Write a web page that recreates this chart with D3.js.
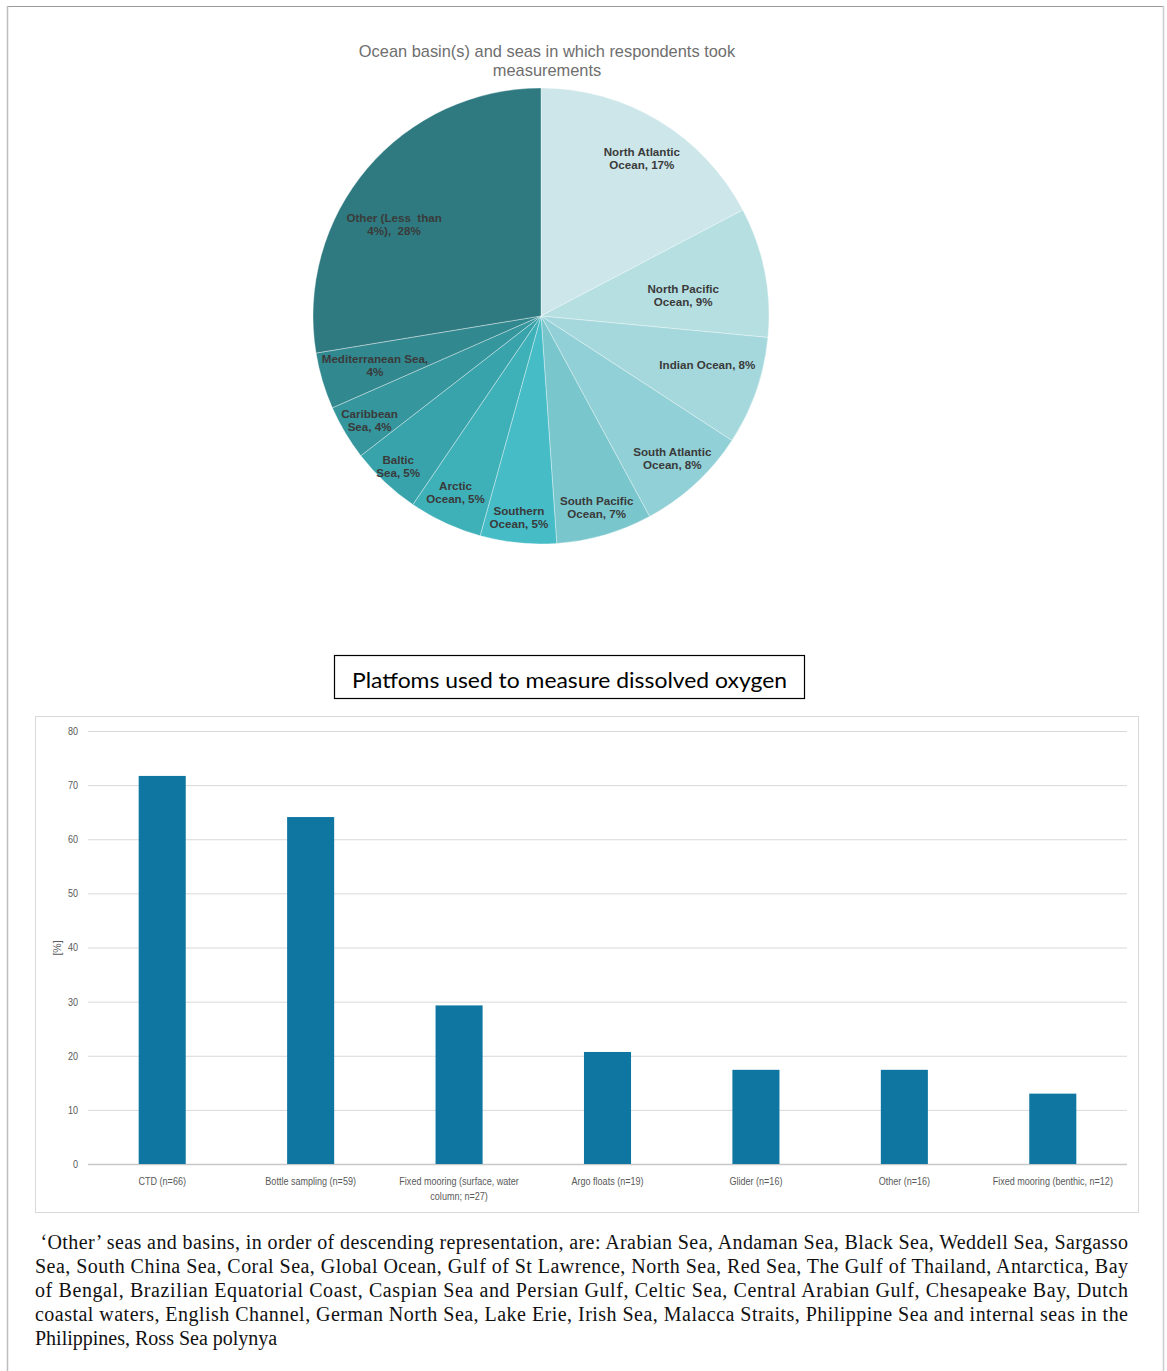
<!DOCTYPE html>
<html>
<head>
<meta charset="utf-8">
<script src="https://cdn.jsdelivr.net/npm/d3@7"></script>
<style>
  html, body { margin: 0; padding: 0; background: #fff; }
  svg { display: block; }
</style>
</head>
<body>
<svg id="chart" width="1167" height="1371"></svg>
<script>
// ---------- Pie data ----------
const pieTitleLines = ["Ocean basin(s) and seas in which respondents took", "measurements"];
const pieCategories = [
  ["North Atlantic", "Ocean, 17%"],
  ["North Pacific", "Ocean, 9%"],
  ["Indian Ocean, 8%"],
  ["South Atlantic", "Ocean, 8%"],
  ["South Pacific", "Ocean, 7%"],
  ["Southern", "Ocean, 5%"],
  ["Arctic", "Ocean, 5%"],
  ["Baltic", "Sea, 5%"],
  ["Caribbean", "Sea, 4%"],
  ["Mediterranean Sea,", "4%"],
  ["Other (Less  than", "4%),  28%"]
];
const pieValues = [17.3, 9.2, 7.7, 7.9, 6.8, 5.4, 5.2, 5.0, 3.9, 4.0, 27.6];
const pieColors = ["#cde6ea", "#b6dfe2", "#a5d8dc", "#91d0d6", "#79c6cd", "#45bcc6",
                   "#3eb0b8", "#39a3ab", "#35969d", "#31888f", "#2e7a80"];

// ---------- Bar data ----------
const barTitle = "Platfoms used to measure dissolved oxygen";
const barCategories = [
  ["CTD (n=66)"],
  ["Bottle sampling (n=59)"],
  ["Fixed mooring (surface, water", "column; n=27)"],
  ["Argo floats (n=19)"],
  ["Glider (n=16)"],
  ["Other (n=16)"],
  ["Fixed mooring (benthic, n=12)"]
];
const barValues = [71.7, 64.1, 29.3, 20.7, 17.4, 17.4, 13.0];
const yTicks = [0, 10, 20, 30, 40, 50, 60, 70, 80];
const yLabel = "[%]";

// ---------- Caption ----------
const captionLines = [
  "\u00A0\u2018Other\u2019 seas and basins, in order of descending representation, are: Arabian Sea, Andaman Sea, Black Sea, Weddell Sea, Sargasso",
  "Sea, South China Sea, Coral Sea, Global Ocean, Gulf of St Lawrence, North Sea, Red Sea, The Gulf of Thailand, Antarctica, Bay",
  "of Bengal, Brazilian Equatorial Coast, Caspian Sea and Persian Gulf, Celtic Sea, Central Arabian Gulf, Chesapeake Bay, Dutch",
  "coastal waters, English Channel, German North Sea, Lake Erie, Irish Sea, Malacca Straits, Philippine Sea and internal seas in the",
  "Philippines, Ross Sea polynya"
];

const svg = d3.select("#chart");

// Page frame
svg.append("line").attr("x1", 7).attr("x2", 1164).attr("y1", 6.5).attr("y2", 6.5).attr("stroke", "#9a9a9a").attr("stroke-width", 1);
svg.append("line").attr("x1", 7.5).attr("x2", 7.5).attr("y1", 6).attr("y2", 1371).attr("stroke", "#bdbdbd").attr("stroke-width", 1.5);
svg.append("line").attr("x1", 1163.5).attr("x2", 1163.5).attr("y1", 6).attr("y2", 1371).attr("stroke", "#cccccc").attr("stroke-width", 1.5);

// ---------- Pie ----------
const cx = 541, cy = 316, R = 228;
const pieG = svg.append("g").attr("transform", `translate(${cx},${cy})`);
const pie = d3.pie().sort(null).value(d => d)(pieValues);
const arc = d3.arc().innerRadius(0).outerRadius(R);
pieG.selectAll("path").data(pie).join("path")
  .attr("d", arc)
  .attr("fill", (d, i) => pieColors[i])
  .attr("stroke", "#ffffff")
  .attr("stroke-width", 0.6)
  .attr("stroke-opacity", 0.6);

// label placement: radius factor and angular shift (degrees) per slice
const labelR = [0.82, 0.63, 0.76, 0.85, 0.875, 0.89, 0.86, 0.91, 0.88, 0.76, 0.76];
const labelShift = [1.5, 3, -3, 0, 0, 0.5, 1, 0.3, -0.5, 0, -8.3];
const labelG = pieG.append("g");
pie.forEach((d, i) => {
  const a = (d.startAngle + d.endAngle) / 2 + labelShift[i] * Math.PI / 180;
  const r = R * labelR[i];
  const x = Math.sin(a) * r, y = -Math.cos(a) * r;
  const lines = pieCategories[i];
  const t = labelG.append("text")
    .attr("text-anchor", "middle")
    .attr("font-family", "Liberation Sans, Arial, sans-serif")
    .attr("font-weight", "bold")
    .attr("font-size", 11.6)
    .attr("fill", "#3a3a3a")
    .attr("xml:space", "preserve");
  lines.forEach((ln, j) => {
    t.append("tspan")
      .attr("x", x)
      .attr("y", y + (j - (lines.length - 1) / 2) * 13 + 4)
      .text(ln);
  });
});

// Pie title
const pt = svg.append("text")
  .attr("text-anchor", "middle")
  .attr("font-family", "Liberation Sans, Arial, sans-serif")
  .attr("font-size", 16.4)
  .attr("fill", "#6e6e6e");
pieTitleLines.forEach((ln, j) => {
  pt.append("tspan").attr("x", 547).attr("y", 57 + j * 19).text(ln);
});

// ---------- Bar title box ----------
svg.append("rect").attr("x", 334.5).attr("y", 655.5).attr("width", 470).attr("height", 43)
  .attr("fill", "#fff").attr("stroke", "#000").attr("stroke-width", 1.2);
svg.append("text").attr("x", 352).attr("y", 687.5)
  .attr("font-family", "Lato, Open Sans, Liberation Sans, sans-serif")
  .attr("font-size", 22)
  .attr("fill", "#000")
  .attr("textLength", 435)
  .attr("lengthAdjust", "spacingAndGlyphs")
  .text(barTitle);

// Bar chart frame
svg.append("rect").attr("x", 35.5).attr("y", 716.5).attr("width", 1103).attr("height", 496)
  .attr("fill", "#fff").attr("stroke", "#d9d9d9").attr("stroke-width", 1);

const plot = { left: 88, right: 1127, top: 731, bottom: 1164 };
const x = d3.scaleBand().domain(barCategories.map((d, i) => i)).range([plot.left, plot.right]).paddingInner(0.683).paddingOuter(0.3415);
const y = d3.scaleLinear().domain([0, 80]).range([plot.bottom, plot.top]);

const narrow = 0.86; // horizontal condensing for narrow axis font
const barG = svg.append("g");
// gridlines
const yAxis = d3.axisLeft(y).tickValues(yTicks).tickSize(-(plot.right - plot.left)).tickPadding(10);
const ya = barG.append("g").attr("transform", `translate(${plot.left},0)`).call(yAxis);
ya.select(".domain").remove();
ya.selectAll(".tick line").attr("stroke", d => d === 0 ? "#c8c8c8" : "#d9d9d9").attr("stroke-width", d => d === 0 ? 1.5 : 1);
ya.selectAll(".tick text")
  .attr("font-family", "Liberation Sans, Arial, sans-serif")
  .attr("font-size", 10.5)
  .attr("fill", "#595959")
  .each(function() {
    const w = this.getComputedTextLength();
    d3.select(this).attr("textLength", w * narrow).attr("lengthAdjust", "spacingAndGlyphs");
  });

// bars
barG.append("g").selectAll("rect").data(barValues).join("rect")
  .attr("x", (d, i) => x(i))
  .attr("width", x.bandwidth())
  .attr("y", d => y(d))
  .attr("height", d => y(0) - y(d))
  .attr("fill", "#0e76a0");

// x labels
const xAxis = d3.axisBottom(x).tickSize(0).tickFormat("");
const xa = barG.append("g").attr("transform", `translate(0,${plot.bottom})`).call(xAxis);
xa.select(".domain").remove();
xa.selectAll(".tick").each(function(d, i) {
  const g = d3.select(this);
  barCategories[i].forEach((ln, j) => {
    const t = g.append("text")
      .attr("text-anchor", "middle")
      .attr("font-family", "Liberation Sans, Arial, sans-serif")
      .attr("font-size", 10.5)
      .attr("fill", "#595959")
      .attr("x", 0).attr("y", 21 + j * 15)
      .text(ln);
    const w = t.node().getComputedTextLength();
    t.attr("textLength", w * narrow).attr("lengthAdjust", "spacingAndGlyphs");
  });
});

// y label
svg.append("text")
  .attr("transform", `translate(61,948) rotate(-90)`)
  .attr("text-anchor", "middle")
  .attr("font-family", "Liberation Sans, Arial, sans-serif")
  .attr("font-size", 10.5)
  .attr("fill", "#595959")
  .text(yLabel);

// ---------- Caption ----------
const capG = svg.append("g");
captionLines.forEach((ln, j) => {
  const t = capG.append("text")
    .attr("x", 35)
    .attr("y", 1249 + j * 24)
    .attr("font-family", "Liberation Serif, Times New Roman, serif")
    .attr("font-size", 20)
    .attr("fill", "#111")
    .attr("xml:space", "preserve")
    .text(ln);
  if (j < captionLines.length - 1) {
    t.attr("textLength", 1128 - 35).attr("lengthAdjust", "spacing");
  }
});
</script>
</body>
</html>
